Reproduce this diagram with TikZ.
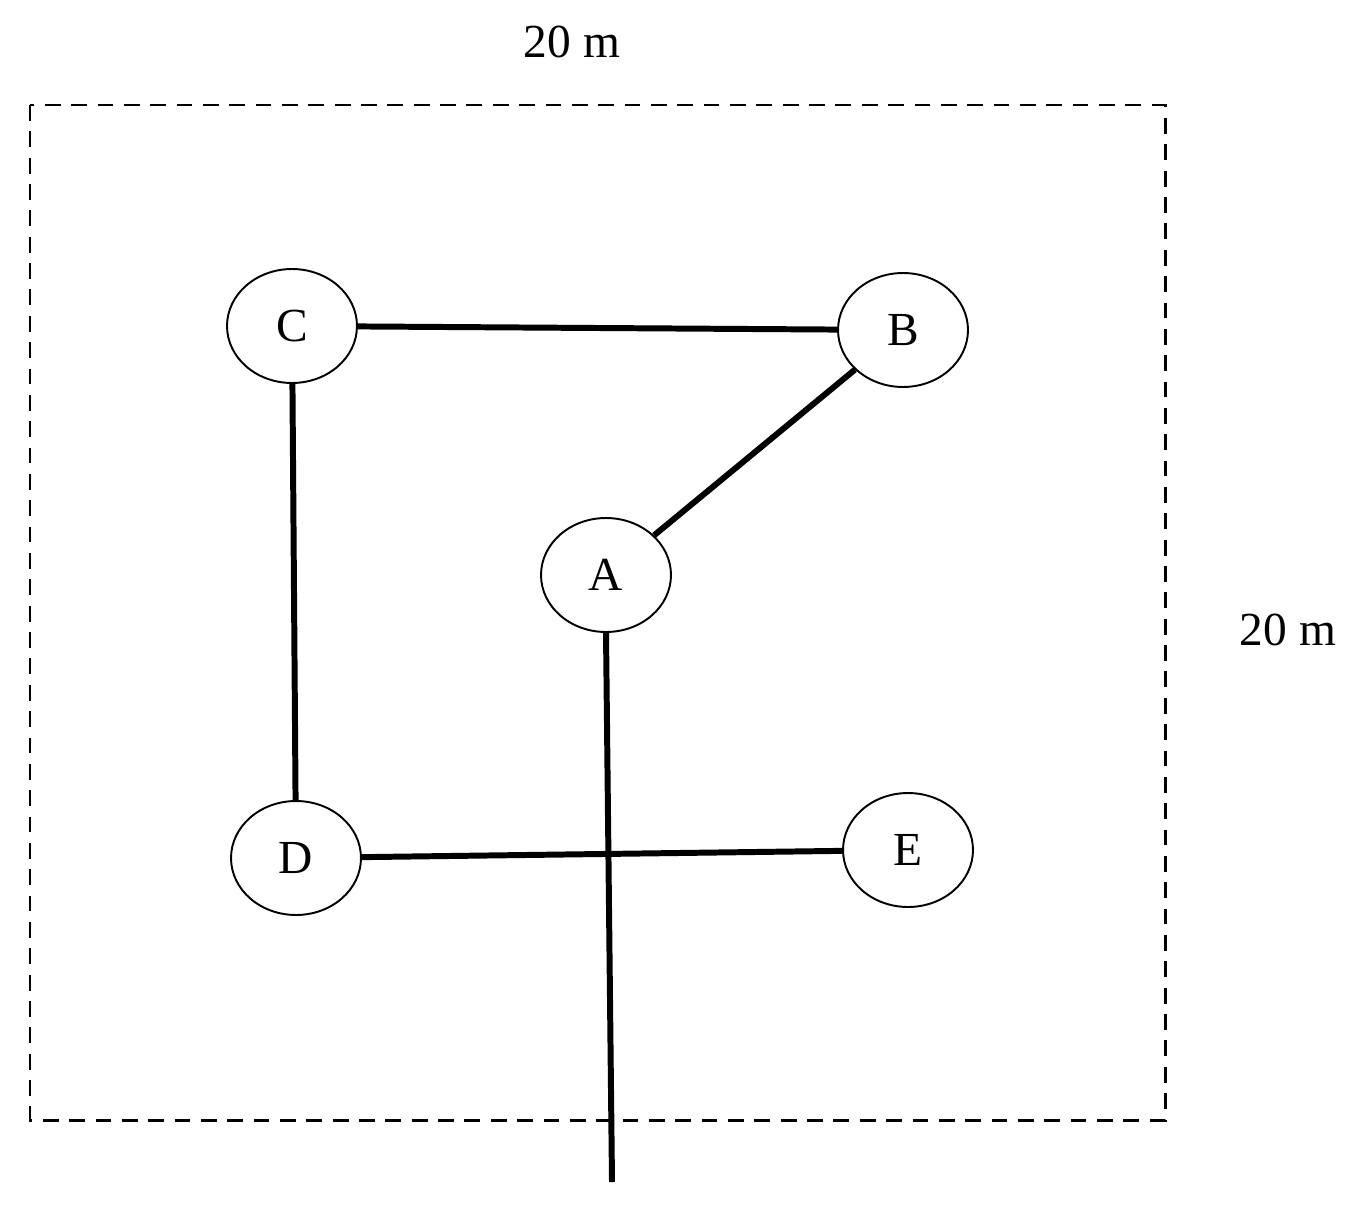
\documentclass[tikz,border=0pt]{standalone}
\usepackage{fontspec}
\setmainfont{Liberation Serif}
\usetikzlibrary{shapes.geometric}
\begin{document}
\begin{tikzpicture}[x=0.02cm,y=-0.02cm,
  vtx/.style={draw,ellipse,line width=1.1pt,minimum width=2.6cm,minimum height=2.28cm,inner sep=0pt,font=\fontsize{27}{30}\selectfont},
  edge/.style={line width=3.4pt},
  lbl/.style={font=\fontsize{27}{30}\selectfont}]
\useasboundingbox (0,0) rectangle (1361,1209);
\draw[dashed,line width=1.7pt,dash pattern=on 9pt off 6pt] (30,105) rectangle (1165,1120);
\node[lbl] (t1) at (572,42) {20 m};
\node[lbl] (t2) at (1288,630) {20 m};
\node[vtx] (C) at (292,326) {C};
\node[vtx] (B) at (903,330) {B};
\node[vtx] (A) at (606,575) {A};
\node[vtx] (D) at (296,858) {D};
\node[vtx] (E) at (908,850) {E};
\coordinate (bot) at (612,1182);
\draw[edge] (C) -- (B);
\draw[edge] (B) -- (A);
\draw[edge] (C) -- (D);
\draw[edge] (D) -- (E);
\draw[edge] (A.south) -- (bot);
\end{tikzpicture}
\end{document}
